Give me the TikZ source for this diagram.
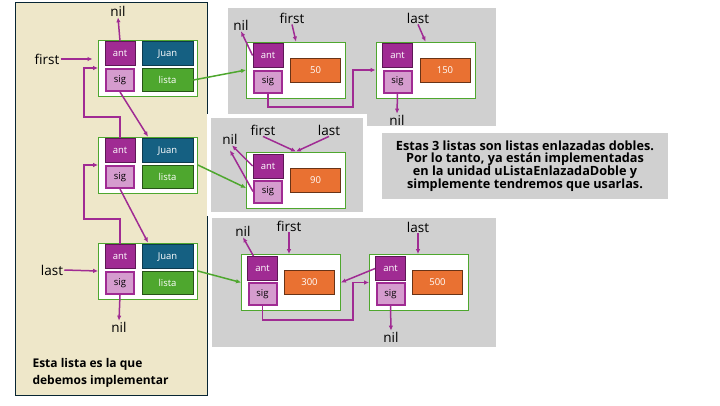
\documentclass[tikz,border=0pt]{standalone}
\usepackage{fontspec}
\setmainfont{Open Sans}
\usetikzlibrary{arrows.meta}
\definecolor{lila}{HTML}{A02B93}
\definecolor{lilaosc}{HTML}{5E1756}
\definecolor{rosa}{HTML}{D59CCE}
\definecolor{azul}{HTML}{156082}
\definecolor{verde}{HTML}{4EA72E}
\definecolor{naranja}{HTML}{E97132}
\definecolor{beige}{HTML}{EEE7C9}
\definecolor{gris}{HTML}{D0D0D0}

\begin{document}
\begin{tikzpicture}[x=1pt,y=-1pt,
		box/.style={inner sep=0pt,font=\fontsize{9.5}{10}\selectfont},
		antbox/.style={box,fill=lila,draw=lilaosc,line width=0.8pt,text=white,minimum width=30pt,minimum height=24pt},
		sigbox/.style={box,fill=rosa,draw=lila,line width=2pt,minimum width=28pt,minimum height=22pt},
		juanbox/.style={box,fill=azul,draw=azul!60!black,line width=0.8pt,text=white,minimum width=51pt,minimum height=24pt},
		listabox/.style={box,fill=verde,draw=verde!50!black,line width=0.8pt,text=white,minimum width=51pt,minimum height=23pt},
		valbox/.style={box,fill=naranja,draw=naranja!45!black,line width=0.8pt,text=white,minimum width=50pt,minimum height=24pt},
		frame/.style={draw=verde,fill=white,line width=0.8pt,minimum width=99pt,minimum height=56pt,inner sep=0pt},
		lbl/.style={font=\fontsize{13.5}{14}\selectfont,inner sep=1pt},
		lnk/.style={draw=lila,line width=1.5pt,-{Latex[length=5pt,width=4.5pt]}},
		grn/.style={draw=verde,line width=1.5pt,-{Latex[length=5pt,width=4.5pt]}}]
		\useasboundingbox (0,0) rectangle (720,405);
		% fondos
		\draw[fill=beige,draw=azul!40!black,line width=0.8pt] (15,2) rectangle (207,395);
		\fill[gris] (228,8) rectangle (496,126);
		\draw[fill=gris,draw=white,line width=4pt] (209,116) rectangle (365,214);
		\fill[gris] (212,218) rectangle (496,347);
		% lista de la izquierda
		\foreach \i/\y in {1/40,2/137,3/243} {
			\node[frame] (f\i) at (148,\y+28) {};
			\node[antbox] (a\i) at (120,\y+13.5) {ant};
			\node[sigbox] (s\i) at (120,\y+40) {sig};
			\node[juanbox] (j\i) at (167.5,\y+13.5) {Juan};
			\node[listabox] (l\i) at (167.5,\y+40) {lista};
		}
		\node[lbl] (n0) at (118,11) {nil};
		\node[lbl] (fst) at (47,59) {first};
		\node[lbl] (lst) at (52,270) {last};
		\node[lbl] (n3) at (119,327) {nil};
		\draw[lnk] (a1.north) -- (n0.south);
		\draw[lnk] (fst.east) -- ++(32,0);
		\draw[lnk] (lst.east) -- (f3.west);
		\draw[lnk] (s1.south) -- (f2.north);
		\draw[lnk] (s2.south) -- (f3.north);
		\draw[lnk] (a2.north) |- (84,117) |- (f1.west);
		\draw[lnk] (a3.north) |- (84,219) |- (f2.west);
		\draw[lnk] (s3.south) -- (n3.north);
		\node[anchor=north west,align=left,font=\bfseries\fontsize{12}{17}\selectfont] (txt1) at (29,355) {Esta lista es la que\\debemos implementar};
		% primera lista doble
		\foreach \n/\x/\v in {A/296/50,B/425.5/150} {
			\node[frame] (\n) at (\x,70) {};
			\node[antbox] (a\n) at (\x-28,55.5) {ant};
			\node[sigbox] (s\n) at (\x-28,81.5) {sig};
			\node[valbox] (v\n) at (\x+19.5,70) {\v};
		}
		\node[lbl] (fa) at (292,18) {first};
		\node[lbl] (la) at (418,18) {last};
		\node[lbl] (na) at (241,25) {nil};
		\node[lbl] (nb) at (397,120) {nil};
		\draw[lnk] (fa.south) -- (A.north);
		\draw[lnk] (la.south) -- (B.north);
		\draw[lnk] (aA.west) -- (na.south);
		\draw[lnk] (sA.south) |- (353,107) |- (B.west);
		\draw[lnk] (sB.south) -- (nb.north);
		% segunda lista doble
		\node[frame] (G) at (296,180) {};
		\node[antbox] (aG) at (268,166) {ant};
		\node[sigbox] (sG) at (268,191.5) {sig};
		\node[valbox] (vG) at (315.5,180) {90};
		\node[lbl] (ng) at (230,139) {nil};
		\node[lbl] (fg) at (263,130) {first};
		\node[lbl] (lg) at (329,130) {last};
		\draw[lnk] (fg.south) -- (G.north);
		\draw[lnk] (lg.south) -- (G.north);
		\draw[lnk] (aG.west) -- ([xshift=2pt]ng.south);
		\draw[lnk] (sG.west) -- ([yshift=-5pt]ng.south);
		% tercera lista doble
		\foreach \n/\x/\v in {C/291/300,D/419/500} {
			\node[frame] (\n) at (\x,282.5) {};
			\node[antbox] (a\n) at (\x-28.5,268.5) {ant};
			\node[sigbox] (s\n) at (\x-28.5,294) {sig};
			\node[valbox] (v\n) at (\x+18.5,282.5) {\v};
		}
		\node[lbl] (fc) at (289,226) {first};
		\node[lbl] (ld) at (418,227) {last};
		\node[lbl] (nc) at (243,231) {nil};
		\node[lbl] (nd) at (391,337) {nil};
		\draw[lnk] (fc.south) -- (fc.south |- C.north);
		\draw[lnk] (ld.south) -- (ld.south |- D.north);
		\draw[lnk] ([xshift=-9pt]aC.north) -- (nc.south);
		\draw[lnk] (aD.west) -- (C.east);
		\draw[lnk] (sC.south) |- (353,320) |- (D.west);
		\draw[lnk] (sD.south) -- (nd.north);
		% enlaces a las listas
		\draw[grn] (l1.east) -- (A.west);
		\draw[grn] (f2.east) -- ([yshift=-8pt]G.west);
		\draw[grn] (f3.east) -- (C.west);
		% nota
		\node[fill=gris,minimum width=286pt,minimum height=66pt,align=center,font=\bfseries\fontsize{12.7}{12.8}\selectfont] (nota) at (525,166) {Estas 3 listas son listas enlazadas dobles.\\Por lo tanto, ya están implementadas\\en la unidad uListaEnlazadaDoble y\\simplemente tendremos que usarlas.};
	\end{tikzpicture}
\end{document}
